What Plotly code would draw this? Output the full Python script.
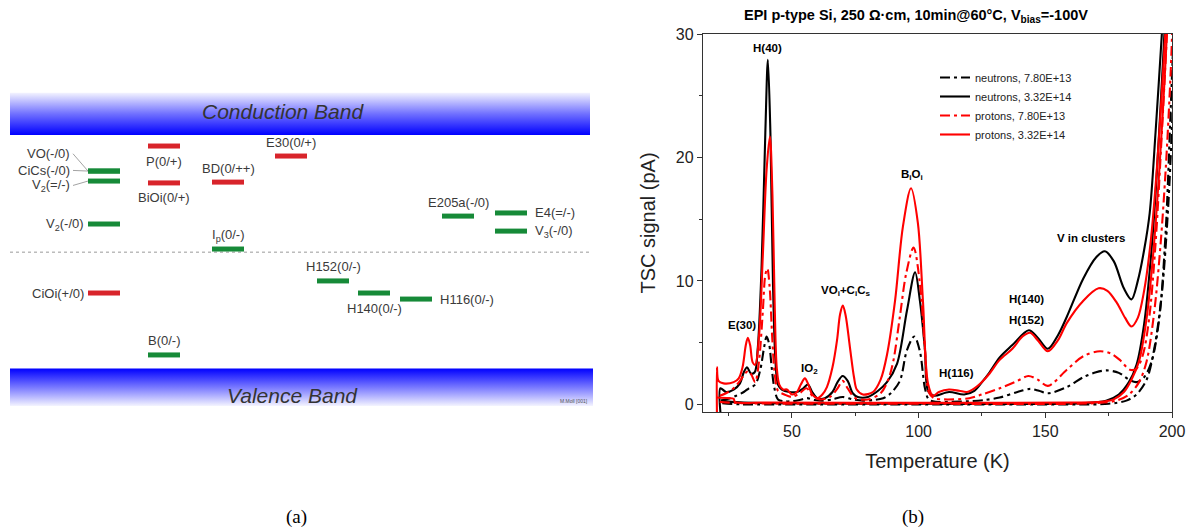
import plotly.graph_objects as go

W, H = 1191, 532

# ================= Panel (b): TSC spectra =================
# neutrons, 7.80E+13  (black dash-dot)
nl_T = [22, 25, 28, 31, 33, 35.5, 37.5, 39, 40, 41, 42, 43, 44.5, 47, 50, 53, 56, 59, 62, 66, 70, 74, 78, 82, 86, 89,
        92.6, 95.4, 98.3, 100.5, 102.5, 104, 107, 112, 120, 126, 132, 139, 144, 147.5, 151, 158.5, 165, 170, 174.3,
        179, 183.4, 186, 189, 192, 195, 197.5, 199.5, 201]
nl_v = [0.3, 0.45, 0.7, 1.0, 1.3, 1.6, 2.8, 4.6, 5.5, 4.9, 3.0, 1.4, 0.4, 0.25, 0.25, 0.35, 0.5, 0.35, 0.3, 0.4, 0.6,
        0.4, 0.3, 0.35, 0.5, 0.9, 1.9, 4.4, 5.5, 4.3, 1.3, 0.4, 0.2, 0.2, 0.25, 0.35, 0.55, 1.0, 1.25, 1.1, 0.9, 1.4,
        2.2, 2.6, 2.75, 2.55, 1.95, 1.8, 2.2, 3.5, 7, 14, 24, 32]
nl_bT = [22.5, 30, 60, 100, 140, 175, 182, 186, 190, 193, 196, 198.5, 200.5]
nl_bv = [0.1, 0.0, 0.0, 0.0, 0.0, 0.05, 0.3, 0.8, 2.0, 4.5, 9, 16, 25]

# neutrons, 3.32E+14  (black solid)
nh_T = [21.8, 21.8, 24, 27, 29.5, 31, 32.3, 33.8, 35.3, 36.5, 38, 39.5, 40.5, 41.5, 42.5, 43.5, 44.5, 46, 49, 52,
        54.5, 56.3, 58, 60, 63, 66, 68, 70, 72, 74, 76, 80, 84, 87.5, 91.5, 95.4, 98.6, 100.5, 102.5, 103.7, 106, 112,
        118, 122, 125.4, 128, 132, 137, 143.5, 147, 151, 155, 158.5, 165, 170, 173.5, 177, 181, 184, 186.5, 189,
        191.2, 193.5, 196, 197.5]
nh_v = [-0.7, 1.3, 1.0, 1.2, 1.7, 2.6, 3.0, 2.5, 2.6, 4.5, 11, 22, 27.9, 22, 10, 3.5, 1.6, 1.2, 1.0, 1.0,
        1.3, 1.6, 1.0, 0.5, 0.5, 1.0, 1.8, 2.3, 1.9, 0.9, 0.6, 0.6, 1.1, 1.8, 3.3, 7.6, 10.7, 8.4, 4.4, 1.1, 0.7, 1.0,
        0.8, 1.1, 1.9, 2.6, 3.8, 4.8, 6.0, 5.4, 4.5, 5.6, 7.1, 10.2, 11.9, 12.4, 11.6, 9.4, 8.5, 10, 12.5,
        15.5, 22, 30, 35]
nh_bT = [22, 26, 40, 100, 165, 174, 179, 183, 186, 189, 191.5, 193.5, 196.5, 198]
nh_bv = [0.3, 0.2, 0.1, 0.05, 0.1, 0.3, 0.8, 1.8, 3.2, 6.5, 11.5, 17, 28, 34]

# protons, 7.80E+13  (red dash-dot)
pl_T = [21.5, 24, 27, 29.5, 31.5, 32.8, 34, 35.5, 37, 38.5, 39.5, 40.3, 41.2, 42.2, 43.2, 44.5, 47, 50, 53, 55.8, 58,
        61, 65, 68, 70, 72, 75, 80, 85, 88, 90, 92.6, 95, 98, 100.5, 102.5, 104, 106, 110, 120, 125, 132, 139, 143.3,
        147, 151, 158.5, 165, 171.6, 176, 179.4, 183.4, 186, 188.5, 191, 193.5, 196, 198, 199.5]
pl_v = [0.7, 0.9, 1.3, 1.9, 2.5, 2.7, 2.4, 1.8, 3.5, 7.5, 10.5, 11.0, 9.5, 5.5, 2.5, 1.1, 0.8, 0.6, 0.9, 1.3, 0.7,
        0.4, 0.6, 1.3, 1.9, 1.3, 0.5, 0.4, 0.9, 2.0, 3.5, 7.1, 10.5, 12.7, 9.8, 4.4, 1.0, 0.5, 0.4, 0.5, 0.8, 1.3, 1.9,
        2.3, 2.0, 1.5, 2.8, 3.9, 4.3, 4.1, 3.6, 2.8, 2.9, 4.0, 7.0, 13, 22, 30, 36]
pl_bT = [21.5, 30, 100, 170, 178, 183, 187, 190, 193, 195.5, 197.5, 199.5, 200.5]
pl_bv = [0.2, 0.1, 0.05, 0.1, 0.3, 0.8, 1.8, 3.5, 7.5, 13, 19, 27, 33]

# protons, 3.32E+14  (red solid)
ph_T = [20.4, 20.4, 21, 23, 27, 29, 30.5, 31.8, 32.6, 33.5, 34.5, 35.5, 37, 38.5, 40, 41.3, 42.3, 43.2, 44, 45, 46.5,
        48, 50, 52, 53.5, 55.1, 56.5, 58, 60, 62, 63.8, 66, 67.8, 69, 70.1, 71.2, 72.9, 74.5, 75.6, 78, 82, 85, 87.5,
        90.7, 93.8, 97, 99.7, 101.7, 103.7, 105.7, 108, 112, 116, 119, 122, 125.4, 128, 132, 137, 141, 144, 147, 151,
        155, 158.5, 165, 171, 174.5, 178.3, 181.5, 184, 186.5, 189, 191.5, 194, 196.5, 198.5]
ph_v = [-0.7, 3.0, 1.9, 1.7, 1.8, 2.1, 3.0, 4.8, 5.4, 4.8, 3.4, 3.2, 5.5, 12, 19, 21.7, 17, 8, 3, 1.6, 1.2,
        1.2, 0.8, 1.0, 1.6, 2.1, 1.6, 0.8, 0.5, 0.8, 1.4, 3.0, 5.2, 7.3, 8.0, 7.2, 4.6, 2.2, 1.2, 0.8, 1.0, 2.0, 4.0,
        8.4, 14.4, 17.5, 14.7, 8.4, 1.7, 0.7, 1.0, 1.2, 1.1, 1.0, 1.3, 1.9, 2.5, 3.6, 4.5, 5.5, 5.8, 5.2, 4.3,
        5.2, 6.6, 8.4, 9.4, 9.2, 8.2, 7.0, 6.3, 7.0, 9.2, 13, 19, 27, 34]
ph_bT = [20.4, 25, 27, 27.5, 40, 100, 160, 172, 177, 181, 184, 187, 190, 192.5, 195, 197.5, 198.5]
ph_bv = [0.55, 0.5, 0.45, 0.2, 0.15, 0.12, 0.15, 0.2, 0.4, 1.0, 2.0, 3.5, 7, 12, 19, 28, 33]

series_names = ["neutrons, 7.80E+13", "neutrons, 3.32E+14", "protons, 7.80E+13", "protons, 3.32E+14"]
series_colors = ["#000000", "#000000", "#ff0000", "#ff0000"]
series_dash = ["10px,4px,3px,4px", "solid", "10px,4px,3px,4px", "solid"]
series_data = [(nl_T, nl_v, nl_bT, nl_bv), (nh_T, nh_v, nh_bT, nh_bv),
               (pl_T, pl_v, pl_bT, pl_bv), (ph_T, ph_v, ph_bT, ph_bv)]

peak_labels = ["H(40)", "E(30)", "IO<sub>2</sub>", "VO<sub>i</sub>+C<sub>i</sub>C<sub>s</sub>", "B<sub>i</sub>O<sub>i</sub>",
               "H(116)", "H(140)", "H(152)", "V in clusters"]
peak_label_T = [40.5, 30.3, 57.0, 71.3, 97.4, 115.0, 142.4, 142.4, 168.0]
peak_label_v = [28.9, 6.4, 2.9, 9.2, 18.6, 2.5, 8.5, 6.8, 13.5]

x_ticks = [50, 100, 150, 200]
y_ticks = [0, 10, 20, 30]

# ================= Panel (a): defect levels in the band gap =================
E_gap = 1.12
level_names = ["VO(-/0)", "CiCs(-/0)", "V<sub>2</sub>(=/-)", "V<sub>2</sub>(-/0)", "CiOi(+/0)", "P(0/+)", "BiOi(0/+)",
               "B(0/-)", "BD(0/++)", "I<sub>p</sub>(0/-)", "E30(0/+)", "H152(0/-)", "H140(0/-)", "H116(0/-)",
               "E205a(-/0)", "E4(=/-)", "V<sub>3</sub>(-/0)"]
level_E = [0.947, 0.947, 0.899, 0.693, 0.362, 1.067, 0.890, 0.065, 0.894, 0.573, 1.019, 0.420, 0.362, 0.333,
           0.731, 0.746, 0.659]
level_type = ["acc", "acc", "acc", "acc", "don", "don", "don", "acc", "don", "acc", "don", "acc", "acc", "acc",
              "acc", "acc", "acc"]
level_col = [104, 104, 104, 104, 104, 164, 164, 164, 228, 228, 291, 333, 374, 416, 458, 511, 511]
label_side = ["leader", "leader", "leader", "left", "left", "below", "below", "above", "above", "above", "above",
              "above", "below", "right", "above", "right", "right"]
leader_label_E = [1.030, 0.950, 0.878]

type_color = {"don": "#d8242b", "acc": "#168a38"}
BAR_HALF = 16

fig = go.Figure()

# ---- panel (b) traces ----
for name, col, dash, (sT, sv, bT, bv) in zip(series_names, series_colors, series_dash, series_data):
    fig.add_trace(go.Scatter(
        x=list(sT) + [None] + list(bT), y=list(sv) + [None] + list(bv),
        mode="lines", name=name, line=dict(color=col, width=2.1, dash=dash, shape="spline", smoothing=0.9),
        xaxis="x", yaxis="y", connectgaps=False))

for txt, tx, ty in zip(peak_labels, peak_label_T, peak_label_v):
    fig.add_annotation(x=tx, y=ty, xref="x", yref="y", text="<b>" + txt + "</b>", showarrow=False,
                       xanchor="center", yanchor="middle",
                       font=dict(size=11.5, color="#000000", family="Liberation Sans, Arial"))

# ---- panel (a) traces ----
# conduction band
fig.add_trace(go.Scatter(x=[10, 590, 590, 10, 10], y=[E_gap, E_gap, E_gap + 0.202, E_gap + 0.202, E_gap],
                         mode="lines", fill="toself", line=dict(width=0, color="rgba(0,0,0,0)"),
                         fillgradient=dict(type="vertical", colorscale=[[0, "#0000ff"], [0.5, "#7070ff"], [1, "#f2f2ff"]]),
                         xaxis="x2", yaxis="y2", showlegend=False, hoverinfo="skip"))
# valence band
fig.add_trace(go.Scatter(x=[10, 593, 593, 10, 10], y=[0, 0, -0.18, -0.18, 0],
                         mode="lines", fill="toself", line=dict(width=0, color="rgba(0,0,0,0)"),
                         fillgradient=dict(type="vertical", colorscale=[[0, "#f4f4ff"], [0.5, "#7878ff"], [1, "#0000ff"]]),
                         xaxis="x2", yaxis="y2", showlegend=False, hoverinfo="skip"))
# mid-gap line
fig.add_trace(go.Scatter(x=[10, 590], y=[E_gap / 2 - 0.002, E_gap / 2 - 0.002], mode="lines",
                         line=dict(color="#9a9a9a", width=1, dash="dot"), xaxis="x2", yaxis="y2",
                         showlegend=False, hoverinfo="skip"))
# level bars
for t in ["don", "acc"]:
    xs, ys = [], []
    for c, e, ty in zip(level_col, level_E, level_type):
        if ty == t:
            xs += [c - BAR_HALF, c + BAR_HALF, None]
            ys += [e, e, None]
    fig.add_trace(go.Scatter(x=xs, y=ys, mode="lines", line=dict(color=type_color[t], width=5),
                             xaxis="x2", yaxis="y2", showlegend=False, hoverinfo="skip"))

# leader lines
lx, ly = [], []
lead_i = 0
for c, e, side in zip(level_col, level_E, label_side):
    if side == "leader":
        lx += [c - BAR_HALF - 15, c - BAR_HALF, None]
        ly += [leader_label_E[lead_i], e, None]
        lead_i += 1
fig.add_trace(go.Scatter(x=lx, y=ly, mode="lines", line=dict(color="#8a8a8a", width=0.8),
                         xaxis="x2", yaxis="y2", showlegend=False, hoverinfo="skip"))

afont = dict(size=13, color="#3a3a3a", family="Liberation Sans, Arial")
lead_i = 0
for nm, c, e, side in zip(level_names, level_col, level_E, label_side):
    if side == "above":
        fig.add_annotation(x=c, y=e, xref="x2", yref="y2", text=nm, showarrow=False, yshift=14, font=afont,
                           xanchor="center", yanchor="middle")
    elif side == "below":
        fig.add_annotation(x=c, y=e, xref="x2", yref="y2", text=nm, showarrow=False, yshift=-15, font=afont,
                           xanchor="center", yanchor="middle")
    elif side == "left":
        fig.add_annotation(x=c - BAR_HALF, y=e, xref="x2", yref="y2", text=nm, showarrow=False,
                           xanchor="right", yanchor="middle", xshift=-2, font=afont)
    elif side == "right":
        fig.add_annotation(x=c + BAR_HALF, y=e, xref="x2", yref="y2", text=nm, showarrow=False,
                           xanchor="left", yanchor="middle", xshift=6, font=afont)
    else:
        fig.add_annotation(x=c - BAR_HALF - 15, y=leader_label_E[lead_i], xref="x2", yref="y2", text=nm,
                           showarrow=False, xanchor="right", yanchor="middle", xshift=-1, font=afont)
        lead_i += 1

fig.add_annotation(x=283, y=E_gap + 0.111, xref="x2", yref="y2", text="<i>Conduction Band</i>", showarrow=False,
                   xanchor="center", yanchor="middle",
                   font=dict(size=21, color="#333333", family="Liberation Sans, Arial"))
fig.add_annotation(x=292, y=-0.128, xref="x2", yref="y2", text="<i>Valence Band</i>", showarrow=False,
                   xanchor="center", yanchor="middle",
                   font=dict(size=21, color="#333333", family="Liberation Sans, Arial"))
fig.add_annotation(x=574, y=-0.155, xref="x2", yref="y2", text="M.Moll [001]", showarrow=False,
                   xanchor="center", yanchor="middle",
                   font=dict(size=5, color="#555555", family="Liberation Sans, Arial"))

# captions
cap_font = dict(size=19, color="#000000", family="Liberation Serif, DejaVu Serif")
fig.add_annotation(x=296 / W, y=1 - 517 / H, xref="paper", yref="paper", text="(a)", showarrow=False,
                   xanchor="center", yanchor="middle", font=cap_font)
fig.add_annotation(x=913 / W, y=1 - 517 / H, xref="paper", yref="paper", text="(b)", showarrow=False,
                   xanchor="center", yanchor="middle", font=cap_font)

# title of (b)
fig.add_annotation(x=916 / W, y=1 - 16 / H, xref="paper", yref="paper",
                   text="<b>EPI p-type Si, 250 Ω·cm, 10min@60°C, V<sub>bias</sub>=-100V</b>", showarrow=False,
                   xanchor="center", yanchor="middle",
                   font=dict(size=14.5, color="#000000", family="Liberation Sans, Arial"))

axis_font = dict(size=16, color="#222222", family="Liberation Sans, Arial")
fig.update_layout(
    template="none",
    width=W, height=H, margin=dict(l=0, r=0, t=0, b=0, autoexpand=False), paper_bgcolor="white",
    plot_bgcolor="rgba(0,0,0,0)",
    xaxis=dict(domain=[703 / W, 1172 / W], range=[14.9, 200], tickvals=x_ticks, ticks="outside", ticklen=5,
               tickwidth=1.2, tickcolor="#333", showline=True, linecolor="#333", linewidth=1.3, mirror=True,
               showgrid=False, zeroline=False, tickfont=axis_font, automargin=False,
               minor=dict(dtick=25, tick0=0, ticks="outside", ticklen=3, tickcolor="#333", showgrid=False),
               title=dict(text="Temperature (K)", font=dict(size=20, color="#222", family="Liberation Sans, Arial"),
                          standoff=14),
               anchor="y"),
    yaxis=dict(domain=[1 - 412 / H, 1 - 34 / H], range=[-0.62, 30], tickvals=y_ticks, ticks="outside", ticklen=5,
               tickwidth=1.2, tickcolor="#333", showline=True, linecolor="#333", linewidth=1.3, mirror=True,
               showgrid=False, zeroline=False, tickfont=axis_font, automargin=False,
               minor=dict(dtick=5, tick0=0, ticks="outside", ticklen=3, tickcolor="#333", showgrid=False),
               title=dict(text="TSC signal (pA)", font=dict(size=20, color="#222", family="Liberation Sans, Arial"),
                          standoff=14),
               anchor="x"),
    xaxis2=dict(domain=[0, 600 / W], range=[0, 600], visible=False, anchor="y2", automargin=False),
    yaxis2=dict(domain=[0, 1], range=[-0.7842, 1.7674], visible=False, anchor="x2", automargin=False),
    legend=dict(x=935 / W, y=1 - 63 / H, xanchor="left", yanchor="top", bgcolor="rgba(0,0,0,0)",
                font=dict(size=11, color="#222", family="Liberation Sans, Arial"), borderwidth=0),
    showlegend=True,
)

fig.write_html("out.html")
